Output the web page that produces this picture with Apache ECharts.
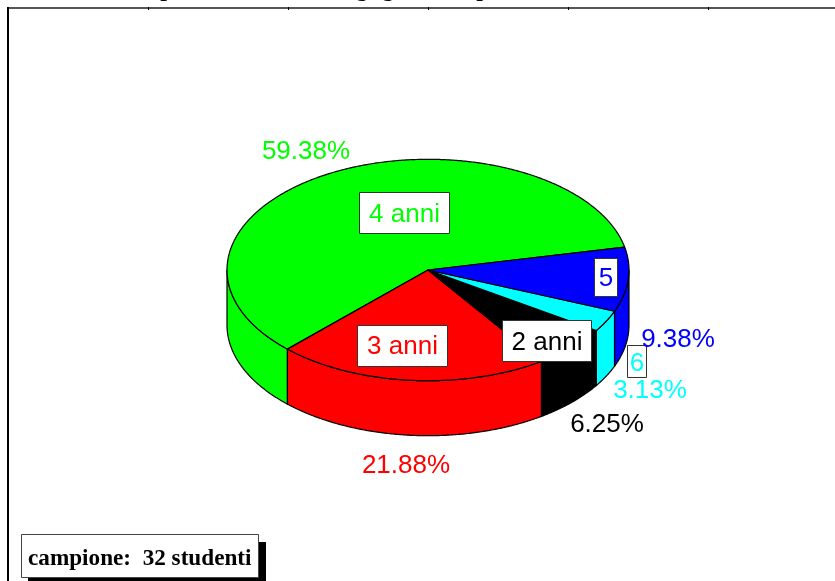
<!DOCTYPE html>
<html>
<head>
<meta charset="utf-8">
<style>html,body{margin:0;padding:0;background:#fff}#c{width:835px;height:581px}</style>
<script src="https://cdn.jsdelivr.net/npm/echarts@6/dist/echarts.min.js"></script>
</head>
<body>
<div id="c"></div>
<script>
// Data
var categories = ['4 anni', '3 anni', '2 anni', '6', '5'];
var percentages = [59.38, 21.88, 6.25, 3.13, 9.38];
var colors = ['#00ff00', '#ff0000', '#000000', '#00ffff', '#0000ff'];
var sampleNote = 'campione:\u00a0\u00a032 studenti';
var titleFragments = ['p', 'g', 'g', 'p'];

// Layout
var CX = 428, CY = 270, RX = 201, RY = 110.7, DEPTH = 55, START = 11.9;
var labelBoxes = [[359,192,90,41],[357,325,90,41],[502,320,89,41],[627,345,19,32],[594,258,23,38]];
var labelShift = [2, 1, 2, 3, 2];
var pctCenters = [[306,152],[406,466],[607,425],[650,391],[678,340]];
var titleX = [167, 362, 388, 483];
var total = percentages.reduce(function (a, b) { return a + b; }, 0);

function pt(deg, dy) {
  var r = deg * Math.PI / 180;
  return [CX + RX * Math.cos(r), CY - RY * Math.sin(r) + (dy || 0)];
}
function arc(a0, a1, dy) {
  var out = [], n = Math.max(2, Math.ceil(Math.abs(a1 - a0) * 2));
  for (var i = 0; i <= n; i++) out.push(pt(a0 + (a1 - a0) * i / n, dy));
  return out;
}
// visible front part of a slice: the angles where sin < 0
function frontRanges(a0, a1) {
  var res = [];
  [[180, 360], [540, 720]].forEach(function (w) {
    var s = Math.max(a0, w[0]), e = Math.min(a1, w[1]);
    if (e > s) res.push([s, e]);
  });
  return res;
}
function sliceAngles(idx) {
  var before = 0;
  for (var i = 0; i < idx; i++) before += percentages[i];
  var a0 = START + before / total * 360;
  return [a0, a0 + percentages[idx] / total * 360];
}
var lineStyle = { stroke: '#000', lineWidth: 1.2, lineJoin: 'round' };

function renderItem(params, api) {
  var idx = params.dataIndex;
  var value = api.value(0);
  var ang = sliceAngles(idx);
  var col = colors[idx];
  var children = [];
  frontRanges(ang[0], ang[1]).forEach(function (r) {
    var pts = arc(r[0], r[1], 0).concat(arc(r[1], r[0], DEPTH));
    children.push({ type: 'polygon', z2: 1, shape: { points: pts },
      style: Object.assign({ fill: col }, lineStyle) });
  });
  children.push({ type: 'polygon', z2: 2, shape: { points: [[CX, CY]].concat(arc(ang[0], ang[1], 0)) },
    style: Object.assign({ fill: col }, lineStyle) });
  var b = labelBoxes[idx], c = pctCenters[idx];
  children.push({ type: 'rect', z2: 3, shape: { x: b[0] + 0.5, y: b[1] + 0.5, width: b[2], height: b[3] },
    style: { fill: '#fff', stroke: '#333', lineWidth: 1 } });
  children.push({ type: 'text', z2: 4, style: { text: categories[idx], x: b[0] + b[2] / 2 + 0.5, y: b[1] + b[3] / 2 + labelShift[idx],
    fill: col, font: '26px "Liberation Sans"', align: 'center', verticalAlign: 'middle' } });
  children.push({ type: 'text', z2: 5, style: { text: value.toFixed(2) + '%', x: c[0], y: c[1],
    fill: col, font: '26px "Liberation Sans"', align: 'center', verticalAlign: 'middle' } });
  return { type: 'group', children: children };
}

var graphics = [
  { type: 'line', z: 1, shape: { x1: 7, y1: 8, x2: 835, y2: 8 }, style: { stroke: '#555', lineWidth: 2 } },
  { type: 'line', z: 1, shape: { x1: 8, y1: 7, x2: 8, y2: 581 }, style: { stroke: '#000', lineWidth: 2 } },
  { type: 'rect', z: 10, shape: { x: 28, y: 542, width: 238, height: 39 }, style: { fill: '#000' } },
  { type: 'rect', z: 11, shape: { x: 21.5, y: 534.5, width: 237, height: 43 }, style: { fill: '#fff', stroke: '#444', lineWidth: 1 } },
  { type: 'text', z: 12, style: { text: sampleNote, x: 28, y: 559, fill: '#000',
    font: 'bold 23.2px "Liberation Serif"', align: 'left', verticalAlign: 'middle' } }
];
[148.5, 288.5, 428.5, 568.5, 708.5].forEach(function (x) {
  graphics.push({ type: 'line', z: 2, shape: { x1: x, y1: 7, x2: x, y2: 10 }, style: { stroke: '#000', lineWidth: 1 } });
});
titleFragments.forEach(function (t, i) {
  graphics.push({ type: 'text', z: 3, style: { text: t, x: titleX[i], y: -10, fill: '#000',
    font: 'bold 24px "Liberation Serif"', align: 'center', verticalAlign: 'middle' } });
});

var chart = echarts.init(document.getElementById('c'), null, { renderer: 'canvas' });
chart.setOption({
  animation: false,
  backgroundColor: '#fff',
  graphic: graphics,
  series: [{
    type: 'custom',
    coordinateSystem: 'none',
    renderItem: renderItem,
    silent: true,
    data: percentages.map(function (v) { return [v]; })
  }]
});
</script>
</body>
</html>
